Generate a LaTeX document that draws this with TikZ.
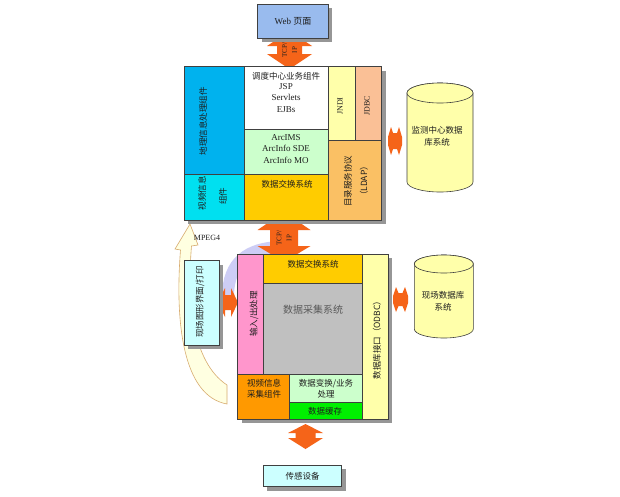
\documentclass[tikz,border=0pt]{standalone}
\usepackage{fontspec}
\setmainfont{Liberation Serif}
\newfontfamily\cjk{Noto Sans CJK SC}
\definecolor{webblue}{RGB}{153,187,238}
\definecolor{deepcyan}{RGB}{0,178,238}
\definecolor{cyanlt}{RGB}{0,224,240}
\definecolor{greenlt}{RGB}{204,255,204}
\definecolor{goldbox}{RGB}{255,204,0}
\definecolor{ylw}{RGB}{255,255,170}
\definecolor{peach}{RGB}{250,192,150}
\definecolor{ldapc}{RGB}{250,192,100}
\definecolor{arrorange}{RGB}{245,100,25}
\definecolor{pinkbox}{RGB}{255,150,204}
\definecolor{graybox}{RGB}{192,192,192}
\definecolor{orangebox}{RGB}{255,153,0}
\definecolor{brightgreen}{RGB}{0,240,0}
\definecolor{paleblue}{RGB}{204,255,255}
\definecolor{shadowc}{RGB}{150,150,150}
\definecolor{lav}{RGB}{205,205,245}
\definecolor{curvefill}{RGB}{255,255,225}
\definecolor{curvedraw}{RGB}{215,170,110}
\definecolor{txt}{RGB}{30,30,30}
\tikzset{
  box/.style={draw=black!75, line width=0.6pt, inner sep=0pt, outer sep=0pt, anchor=north west},
  cn/.style={font=\cjk\fontsize{8.5}{11}\selectfont, inner sep=0pt, text=txt, align=center},
  en/.style={font=\fontsize{9}{11.3}\selectfont, inner sep=0pt, text=txt, align=center},
  blockarrow/.style={fill=arrorange, draw=none},
  shadowfill/.style={fill=shadowc, draw=none},
  cyl/.style={fill=ylw, draw=black!75, line width=0.6pt}
}
\newcommand\mybox[6]{\node[box, fill=#6, minimum width=#4pt, minimum height=#5pt] (#1) at (#2,#3) {};}
\begin{document}
\begin{tikzpicture}[x=1pt,y=-1pt]
\useasboundingbox[fill=white] (0,0) rectangle (620,496);

% background curves
\draw[lav, line width=12pt] (228,297) .. controls (228,262) and (248,248) .. (280,247);
\filldraw[fill=curvefill, draw=curvedraw, line width=0.6pt]
  (190,224) -- (198,245) -- (191.5,246) .. controls (187,300) and (192,362) .. (227,385)
  -- (227,404) .. controls (182,396) and (175,320) .. (180.5,250) -- (175,249) -- cycle;

% block arrows
\fill[blockarrow] (289.5,31) -- (312,46) -- (302,46) -- (302,54) -- (312,54) -- (289.5,69)
  -- (267,54) -- (277,54) -- (277,46) -- (267,46) -- cycle;
\fill[blockarrow] (284,212) -- (310.5,230) -- (298,230) -- (298,246) -- (310.5,246) -- (284,262)
  -- (257.5,246) -- (270,246) -- (270,230) -- (257.5,230) -- cycle;
\fill[blockarrow] (305.5,424) -- (323,433) -- (315.5,433) -- (315.5,438) -- (323,438) -- (305.5,449)
  -- (288,438) -- (295.5,438) -- (295.5,433) -- (288,433) -- cycle;
\fill[blockarrow] (218,302.5) -- (225,288) -- (225,295) -- (231,295) -- (231,288) -- (238,302.5)
  -- (231,317) -- (231,310) -- (225,310) -- (225,317) -- cycle;
\fill[blockarrow] (388,137) -- (391,127) -- (393,133) -- (397,133) -- (399,127) -- (402,137)
  -- (402,145) -- (399,155) -- (397,149) -- (393,149) -- (391,155) -- (388,145) -- cycle;
\fill[blockarrow] (393,296) -- (396,287) -- (398.5,293) -- (402.5,293) -- (405,287) -- (408,296)
  -- (408,303) -- (405,312) -- (402.5,306) -- (398.5,306) -- (396,312) -- (393,303) -- cycle;

% Web box
\fill[shadowfill] (261.7,8) rectangle (332.3,42.3);
\mybox{web}{257.7}{4}{70.6}{34.3}{webblue}
\node[font=\fontsize{9}{11}\selectfont, text=txt] (webt) at (web.center) {Web {\cjk 页面}};

% top block
\fill[shadowfill] (188,70.7) rectangle (385.7,224);
\mybox{tl}{184}{66.7}{60}{107.6}{deepcyan}
\mybox{bl}{184}{174.3}{60}{45.7}{cyanlt}
\mybox{wh}{244}{66.7}{84.3}{62.6}{white}
\mybox{gr}{244}{129.3}{84.3}{45}{greenlt}
\mybox{gd}{244}{174.3}{84.3}{45.7}{goldbox}
\mybox{jndi}{328.3}{66.7}{26.7}{74}{ylw}
\mybox{jdbc}{355}{66.7}{26.7}{74}{peach}
\mybox{ldap}{328.3}{140.7}{53.4}{79.3}{ldapc}

\node[cn, rotate=90] (tlt) at (203,121) {地理信息处理组件};
\node[cn, rotate=90] (blt1) at (202,193) {视频信息};
\node[cn, rotate=90] (blt2) at (223,196) {组件};
\node[cn] (wht1) at (286,76) {调度中心业务组件};
\node[en] (wht2) at (286,98) {JSP\\Servlets\\EJBs};
\node[en, font=\fontsize{9}{11.7}\selectfont] (grt) at (286,149) {ArcIMS\\ArcInfo SDE\\ArcInfo MO};
\node[cn] (gdt) at (287,184) {数据交换系统};
\node[en, rotate=90, font=\fontsize{8}{10}\selectfont] (jndit) at (340,106) {JNDI};
\node[en, rotate=90, font=\fontsize{8}{10}\selectfont] (jdbct) at (367,106) {JDBC};
\node[cn, rotate=90, font=\cjk\fontsize{8.5}{16}\selectfont] (ldapt) at (356,181) {目录服务协议\\（LDAP）};

% cylinder 1
\filldraw[cyl] (407,93) -- (407,182) arc[start angle=180, end angle=0, x radius=33, y radius=10]
  -- (473,93) arc[start angle=0, end angle=-180, x radius=33, y radius=10] -- cycle;
\draw[cyl] (440,93) ellipse [x radius=33, y radius=10];
\node[cn, font=\cjk\fontsize{8.5}{12}\selectfont] (cyl1) at (437,136) {监测中心数据\\库系统};

% TCP/IP labels
\node[en, rotate=90, font=\fontsize{7}{10}\selectfont] (tcp1) at (289.5,50) {TCP/\\IP};
\node[en, rotate=90, font=\fontsize{7}{10}\selectfont] (tcp2) at (284,238) {TCP/\\IP};
\node[en, font=\fontsize{8}{10}\selectfont] (mpeg) at (207,238) {MPEG4};

% left box
\fill[shadowfill] (188,264.7) rectangle (223.3,349.3);
\mybox{lbox}{184}{260.7}{35.3}{84.6}{paleblue}
\node[cn, rotate=90] (lboxt) at (200,302) {现场图形界面/打印};

% bottom block
\fill[shadowfill] (241.7,258) rectangle (392,423.3);
\mybox{pink}{237.7}{254}{25.6}{120.3}{pinkbox}
\mybox{topor}{263.3}{254}{99.4}{29.3}{goldbox}
\mybox{gray}{263.3}{283.3}{99.4}{91}{graybox}
\mybox{rcol}{362.7}{254}{25.3}{165.3}{ylw}
\mybox{vid}{237.7}{374.3}{51.6}{45}{orangebox}
\mybox{chg}{289.3}{374.3}{73.4}{28.4}{greenlt}
\mybox{cache}{289.3}{402.7}{73.4}{16.6}{brightgreen}

\node[cn] (topt) at (313,264) {数据交换系统};
\node[cn, font=\cjk\fontsize{10}{12}\selectfont, text=black!65] (grayt) at (313,310) {数据采集系统};
\node[cn, rotate=90] (pinkt) at (254,314) {输入/出处理};
\node[cn, rotate=90] (rcolt) at (377,338) {数据库接口（ODBC）};
\node[cn] (vidt) at (264,389) {视频信息\\采集组件};
\node[cn] (chgt) at (326,389) {数据变换/业务\\处理};
\node[cn] (cachet) at (325,411) {数据缓存};

% cylinder 2
\filldraw[cyl] (414.3,264) -- (414.3,329) arc[start angle=180, end angle=0, x radius=29.5, y radius=9]
  -- (473.3,264) arc[start angle=0, end angle=-180, x radius=29.5, y radius=9] -- cycle;
\draw[cyl] (443.8,264) ellipse [x radius=29.5, y radius=9];
\node[cn, font=\cjk\fontsize{8.5}{12}\selectfont] (cyl2) at (443,301) {现场数据库\\系统};

% sensor box
\fill[shadowfill] (267.3,469) rectangle (345.7,490.7);
\mybox{sensor}{263.3}{465}{78.4}{21.7}{paleblue}
\node[cn] (sensort) at (sensor.center) {传感设备};
\end{tikzpicture}
\end{document}
